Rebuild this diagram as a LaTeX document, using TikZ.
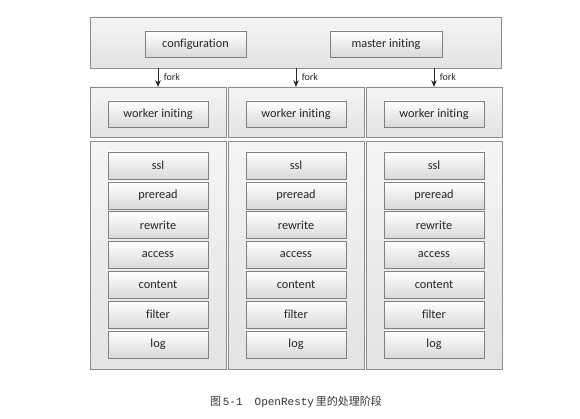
\documentclass[tikz,border=0pt]{standalone}
\usepackage{fontspec}
\usetikzlibrary{arrows.meta}
\setmainfont{Carlito}[Ligatures={NoCommon}]
\newfontfamily\cjkfont{Noto Sans CJK SC}
\newfontfamily\monofont{Liberation Mono}

\begin{document}
\begin{tikzpicture}[x=1pt,y=-1pt,
    panel/.style={draw=black!45,top color=black!4,bottom color=black!11,inner sep=0pt},
    stage/.style={draw=black!50,top color=white,bottom color=black!15,minimum width=100pt,
      minimum height=26pt,inner sep=0pt,text=black!85,font=\fontsize{12.3}{14}\selectfont},
    forkarrow/.style={-{Stealth[length=6.5pt,width=5.5pt]},line width=0.9pt,black!85}]
      \useasboundingbox (0,0) rectangle (580,419);
      % master process
      \node[panel,minimum width=411pt,minimum height=51pt] (master) at (296,42.5) {};
      \node[stage,minimum width=101pt] (conf) at (195.5,44) {configuration};
      \node[stage,minimum width=112pt] (minit) at (386,44) {master initing};
      % worker columns
      \node[panel,minimum width=136pt,minimum height=50pt] (up1) at (158,112) {};
      \node[panel,minimum width=136pt,minimum height=50pt] (up2) at (296,112) {};
      \node[panel,minimum width=136pt,minimum height=50pt] (up3) at (434,112) {};
      \node[panel,minimum width=136pt,minimum height=228pt] (low1) at (158,255) {};
      \node[panel,minimum width=136pt,minimum height=228pt] (low2) at (296,255) {};
      \node[panel,minimum width=136pt,minimum height=228pt] (low3) at (434,255) {};
      % fork
      \draw[forkarrow] (master.south -| up1) -- (up1.north)
        node[midway,right=2pt,text=black!85,font=\fontsize{10}{12}\selectfont] {fork};
      \draw[forkarrow] (master.south -| up2) -- (up2.north)
        node[midway,right=2pt,text=black!85,font=\fontsize{10}{12}\selectfont] {fork};
      \draw[forkarrow] (master.south -| up3) -- (up3.north)
        node[midway,right=2pt,text=black!85,font=\fontsize{10}{12}\selectfont] {fork};
      % worker 1
      \node[stage] (winit1) at (158,114) {worker initing};
      \node[stage,minimum height=27pt] (ssl1) at (158,165.5) {ssl};
      \node[stage,minimum height=27pt] (preread1) at (158,195.3) {preread};
      \node[stage,minimum height=27pt] (rewrite1) at (158,225.1) {rewrite};
      \node[stage,minimum height=27pt] (access1) at (158,254.9) {access};
      \node[stage,minimum height=27pt] (content1) at (158,284.7) {content};
      \node[stage,minimum height=27pt] (filter1) at (158,314.5) {filter};
      \node[stage,minimum height=27pt] (log1) at (158,344.3) {log};
      % worker 2
      \node[stage] (winit2) at (296,114) {worker initing};
      \node[stage,minimum height=27pt] (ssl2) at (296,165.5) {ssl};
      \node[stage,minimum height=27pt] (preread2) at (296,195.3) {preread};
      \node[stage,minimum height=27pt] (rewrite2) at (296,225.1) {rewrite};
      \node[stage,minimum height=27pt] (access2) at (296,254.9) {access};
      \node[stage,minimum height=27pt] (content2) at (296,284.7) {content};
      \node[stage,minimum height=27pt] (filter2) at (296,314.5) {filter};
      \node[stage,minimum height=27pt] (log2) at (296,344.3) {log};
      % worker 3
      \node[stage] (winit3) at (434,114) {worker initing};
      \node[stage,minimum height=27pt] (ssl3) at (434,165.5) {ssl};
      \node[stage,minimum height=27pt] (preread3) at (434,195.3) {preread};
      \node[stage,minimum height=27pt] (rewrite3) at (434,225.1) {rewrite};
      \node[stage,minimum height=27pt] (access3) at (434,254.9) {access};
      \node[stage,minimum height=27pt] (content3) at (434,284.7) {content};
      \node[stage,minimum height=27pt] (filter3) at (434,314.5) {filter};
      \node[stage,minimum height=27pt] (log3) at (434,344.3) {log};
      % caption
      \node[text=black!80,font=\fontsize{11}{13}\selectfont] (cap) at (296,402)
        {{\cjkfont 图}\,{\monofont 5-1}\hspace{12pt}{\monofont OpenResty}\,{\cjkfont 里的处理阶段}};
    \end{tikzpicture}
\end{document}
